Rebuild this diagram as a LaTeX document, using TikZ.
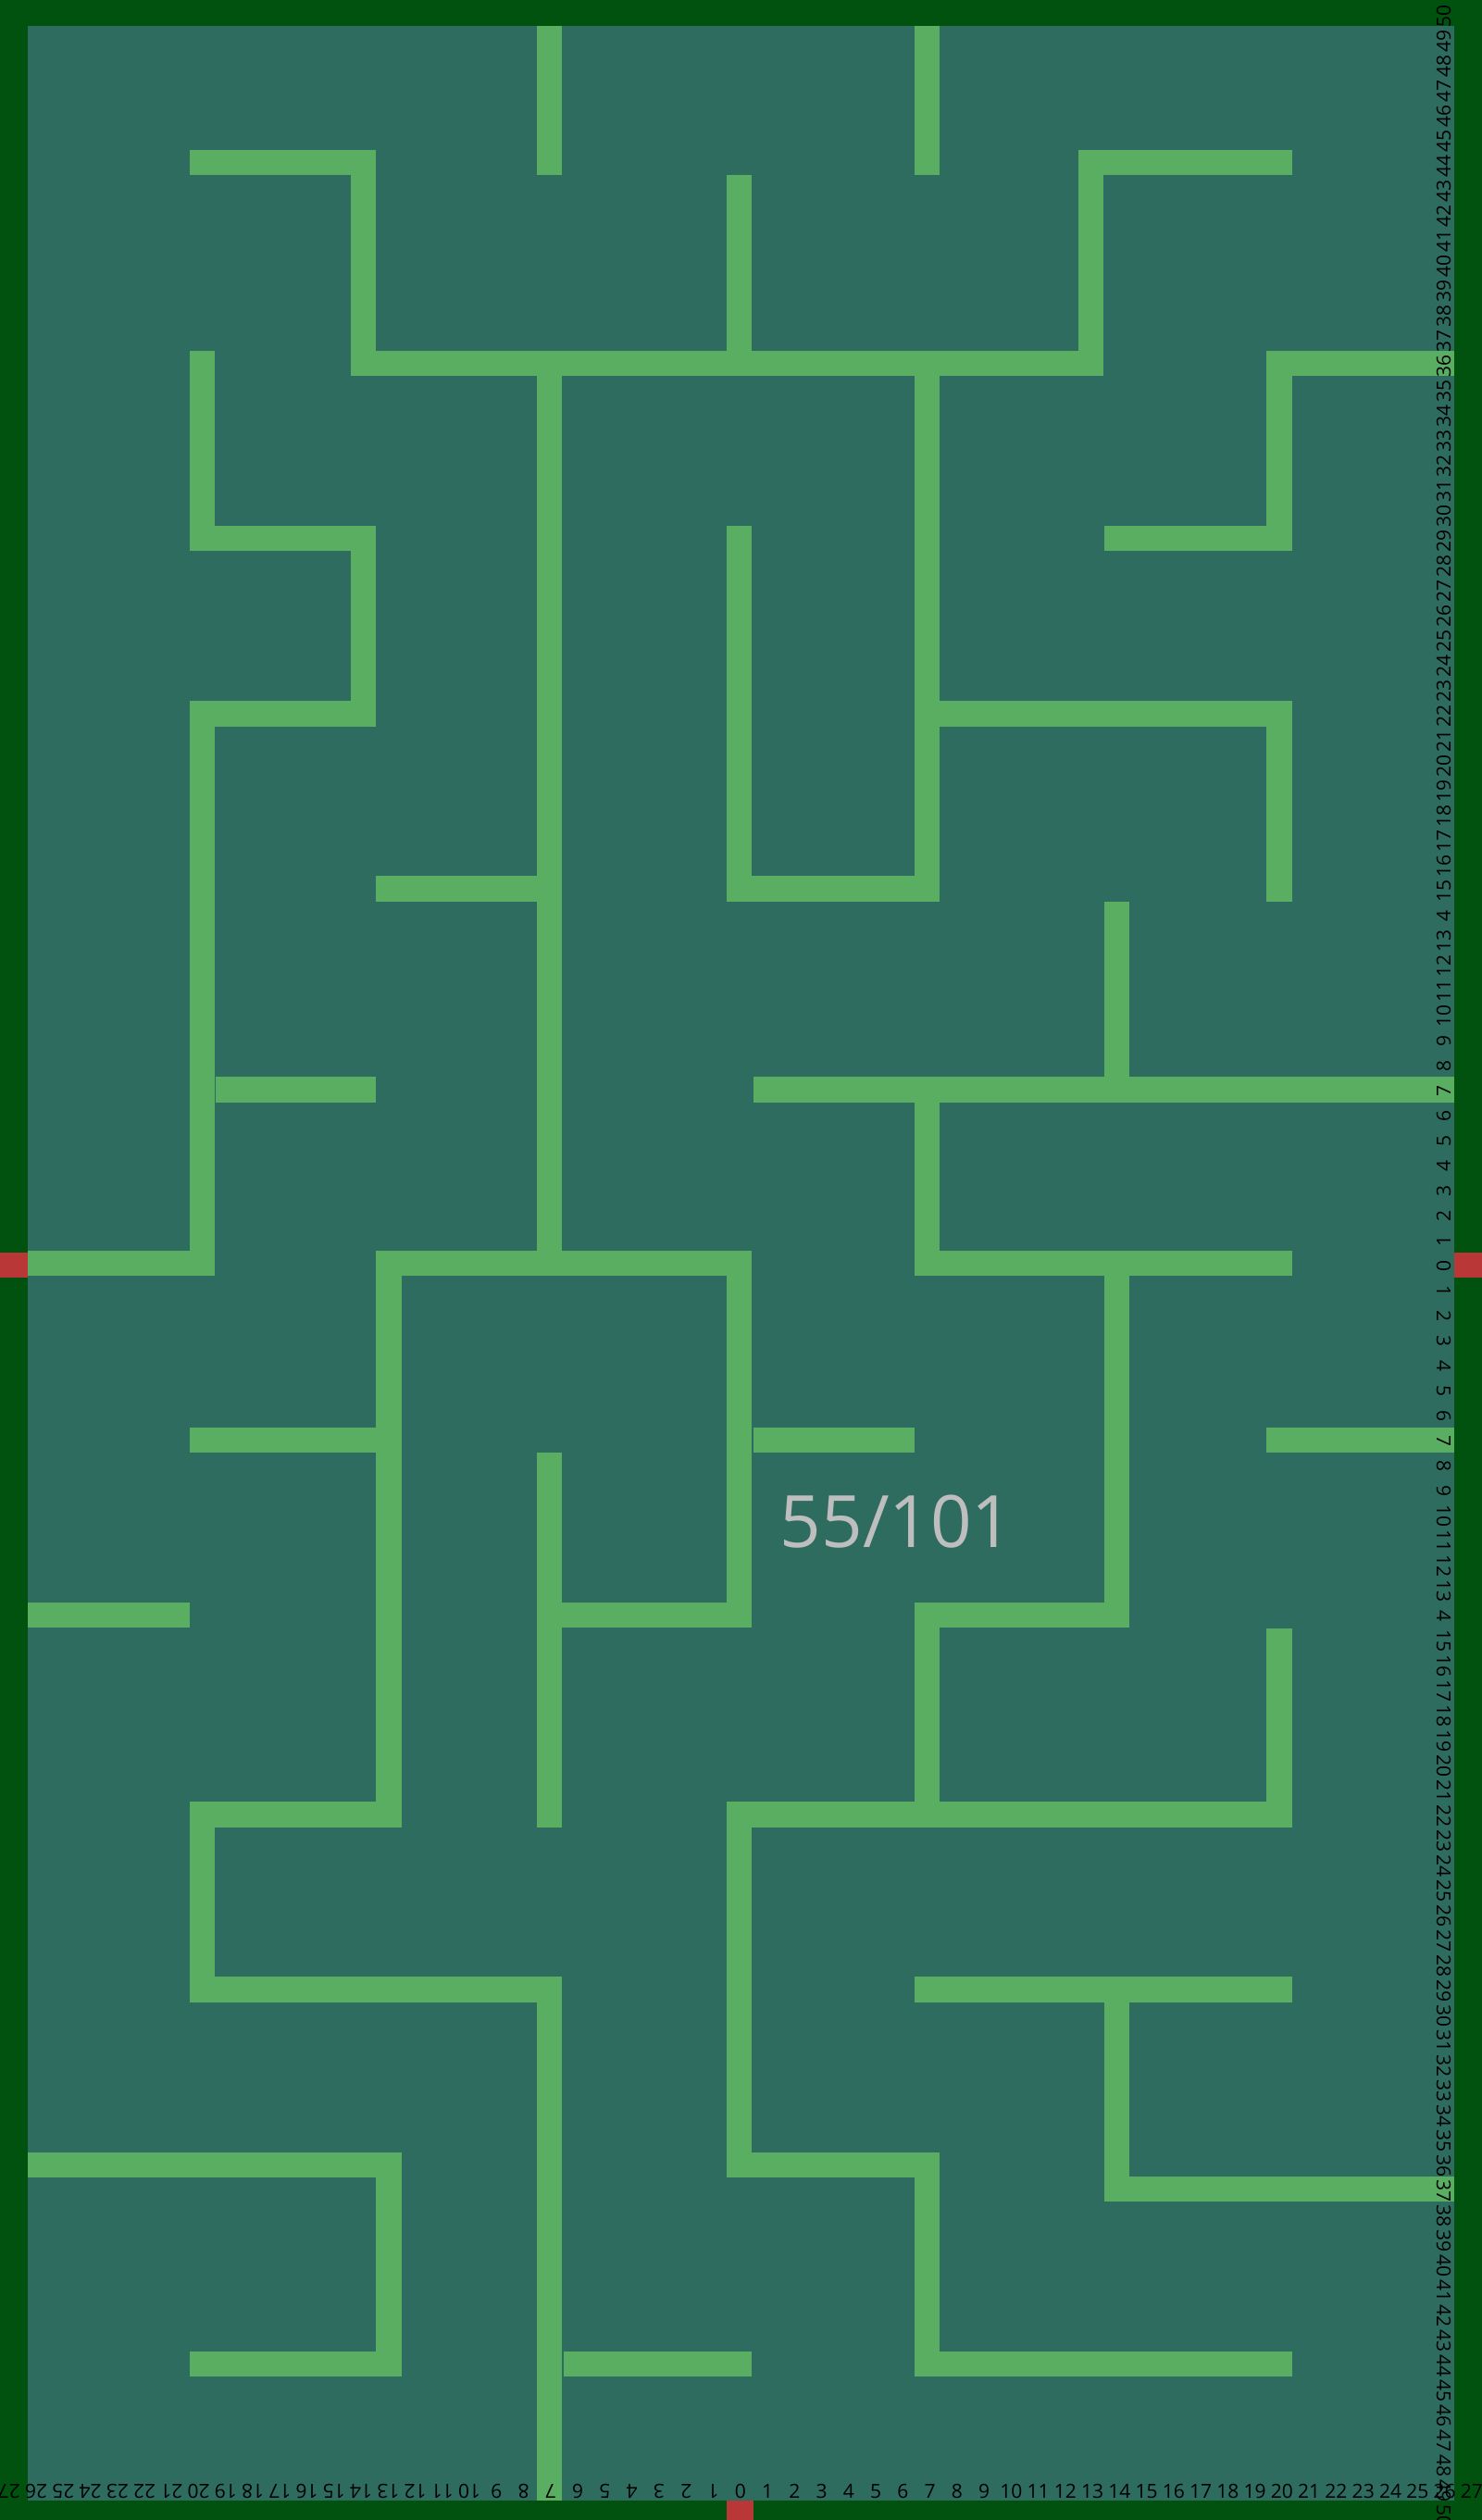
\documentclass[tikz,border=0pt]{standalone}
\usepackage{fontspec}
\setmainfont{Open Sans}
\definecolor{tealbg}{RGB}{46,108,96}
\definecolor{framec}{RGB}{0,82,14}
\definecolor{wallc}{RGB}{90,174,98}
\definecolor{redc}{RGB}{185,55,55}
\definecolor{grayc}{RGB}{190,190,190}
\begin{document}
\begin{tikzpicture}[x=1.7354pt,y=-1.7354pt,
  wall/.style={draw=wallc,line width=27.5pt,line cap=rect,line join=miter},
  lbl/.style={font=\fontsize{21}{21}\selectfont,text=black,inner sep=0pt}]
\useasboundingbox (0,0) rectangle (922,1568);
\fill[tealbg] (0,0) rectangle (922,1568);
% walls
\draw[wall] (342,8) -- (342,101);
\draw[wall] (577,8) -- (577,101);
\draw[wall] (126,101) -- (226,101) -- (226,226) -- (679,226) -- (679,101) -- (796,101);
\draw[wall] (460,117) -- (460,226);
\draw[wall] (342,226) -- (342,786);
\draw[wall] (577,226) -- (577,553) -- (460,553) -- (460,335);
\draw[wall] (577,444) -- (796,444) -- (796,553);
\draw[wall] (914,226) -- (796,226) -- (796,335) -- (695,335);
\draw[wall] (126,226) -- (126,335) -- (226,335) -- (226,444) -- (126,444) -- (126,786) -- (8,786);
\draw[wall] (242,553) -- (342,553);
\draw[wall] (142,678) -- (226,678);
\draw[wall] (477,678) -- (914,678);
\draw[wall] (695,569) -- (695,678);
\draw[wall] (577,694) -- (577,771);
\draw[wall] (242,1129) -- (242,786) -- (460,786) -- (460,1005) -- (350,1005);
\draw[wall] (342,912) -- (342,1129);
\draw[wall] (126,896) -- (242,896);
\draw[wall] (477,896) -- (561,896);
\draw[wall] (796,896) -- (914,896);
\draw[wall] (8,1005) -- (110,1005);
\draw[wall] (242,1129) -- (126,1129) -- (126,1238) -- (342,1238) -- (342,1562);
\draw[wall] (577,786) -- (796,786);
\draw[wall] (695,786) -- (695,1005) -- (577,1005) -- (577,1129);
\draw[wall] (460,1129) -- (796,1129) -- (796,1021);
\draw[wall] (460,1129) -- (460,1347) -- (577,1347) -- (577,1471) -- (796,1471);
\draw[wall] (577,1238) -- (796,1238);
\draw[wall] (695,1238) -- (695,1362) -- (914,1362);
\draw[wall] (359,1471) -- (460,1471);
\draw[wall] (8,1347) -- (242,1347) -- (242,1471) -- (126,1471);
% frame
\fill[framec] (0,0) rectangle (922,16);
\fill[framec] (0,0) rectangle (17,1568);
\fill[framec] (905,0) rectangle (922,1568);
\fill[framec] (0,1556) rectangle (922,1568);
% red markers
\fill[redc] (0,779.6) rectangle (17,795.2);
\fill[redc] (905,779.6) rectangle (922,795.2);
\fill[redc] (452.3,1556) rectangle (469.1,1568);
% score
\node[font=\fontsize{78}{78}\selectfont,text=grayc,inner sep=0pt] (score) at (558,947) {55/101};
% bottom ruler
\node[lbl] (b0) at (460.7,1550) {0};
\foreach \k in {1,...,27}{
  \node[lbl] (br\k) at ({460.7+16.855*\k},1550) {\k};
  \node[lbl,rotate=180] (bl\k) at ({460.7-16.855*\k},1550) {\k};
}
% right ruler
\node[lbl,rotate=90] (r0) at (898.4,787.7) {0};
\foreach \k in {1,...,50}{
  \node[lbl,rotate=90] (ru\k) at (898.4,{787.7-15.558*\k}) {\ifnum\k=14 4\else\k\fi};
  \node[lbl,rotate=-90] (rd\k) at (898.4,{787.7+15.558*\k}) {\ifnum\k=14 4\else\k\fi};
}
\end{tikzpicture}
\end{document}
